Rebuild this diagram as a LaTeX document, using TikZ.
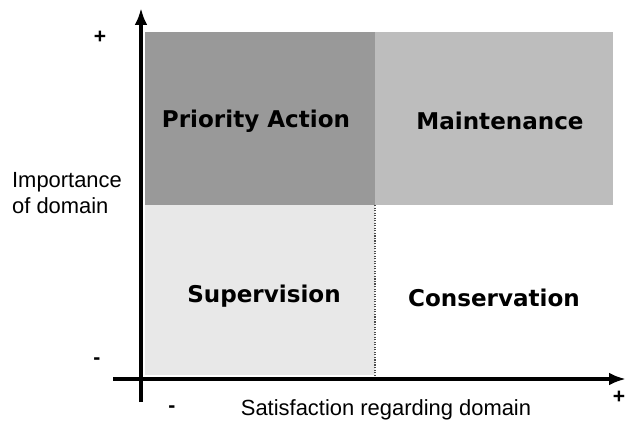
\documentclass[tikz,border=0pt]{standalone}
\usepackage{fontspec}
\setmainfont{Liberation Sans}
\newfontfamily\quadfont{DejaVu Sans}
\usepackage{xcolor}
\usetikzlibrary{arrows.meta}

\definecolor{actiongray}{gray}{0.60}
\definecolor{maintgray}{gray}{0.74}
\definecolor{supgray}{gray}{0.91}

\begin{document}
\begin{tikzpicture}[x=0.025cm, y=-0.025cm,
    quadlabel/.style={font=\quadfont\bfseries\fontsize{16.4}{18}\selectfont},
    axislabel/.style={font=\fontsize{15.6}{18}\selectfont, align=left},
    signlabel/.style={font=\bfseries\fontsize{15}{18}\selectfont},
    axisline/.style={line width=3pt, -{Latex[length=12pt, width=9pt]}}]
    \useasboundingbox (0,0) rectangle (626,424);
    % quadrants
    \fill[actiongray] (145,32) rectangle (375,205);
    \fill[maintgray] (375,32) rectangle (613,205);
    \fill[supgray] (145,205) rectangle (375,375);
    \draw[densely dotted, line width=0.8pt, gray!60!black] (375,205) -- (375,375);
    % axes
    \coordinate (ybottom) at (141,402);
    \coordinate (ytop) at (141,8);
    \coordinate (xleft) at (113,379);
    \coordinate (xright) at (626,379);
    \draw[axisline] (ybottom) -- (ytop);
    \draw[axisline] (xleft) -- (xright);
    % quadrant names
    \node[quadlabel] (action) at (256,121) {Priority Action};
    \node[quadlabel] (maint) at (500,121) {Maintenance};
    \node[quadlabel] (super) at (264,296) {Supervision};
    \node[quadlabel] (conserv) at (494,298) {Conservation};
    % axis labels
    \node[axislabel] (importance) at (67,193) {Importance\\of domain};
    \node[signlabel] (yplus) at (100,37) {+};
    \node[signlabel] (yminus) at (97,361) {-};
    \node[axislabel] (satisf) at (386,410) {Satisfaction regarding domain};
    \node[signlabel] (xminus) at (172,409) {-};
    \node[signlabel] (xplus) at (619,397) {+};
\end{tikzpicture}
\end{document}
